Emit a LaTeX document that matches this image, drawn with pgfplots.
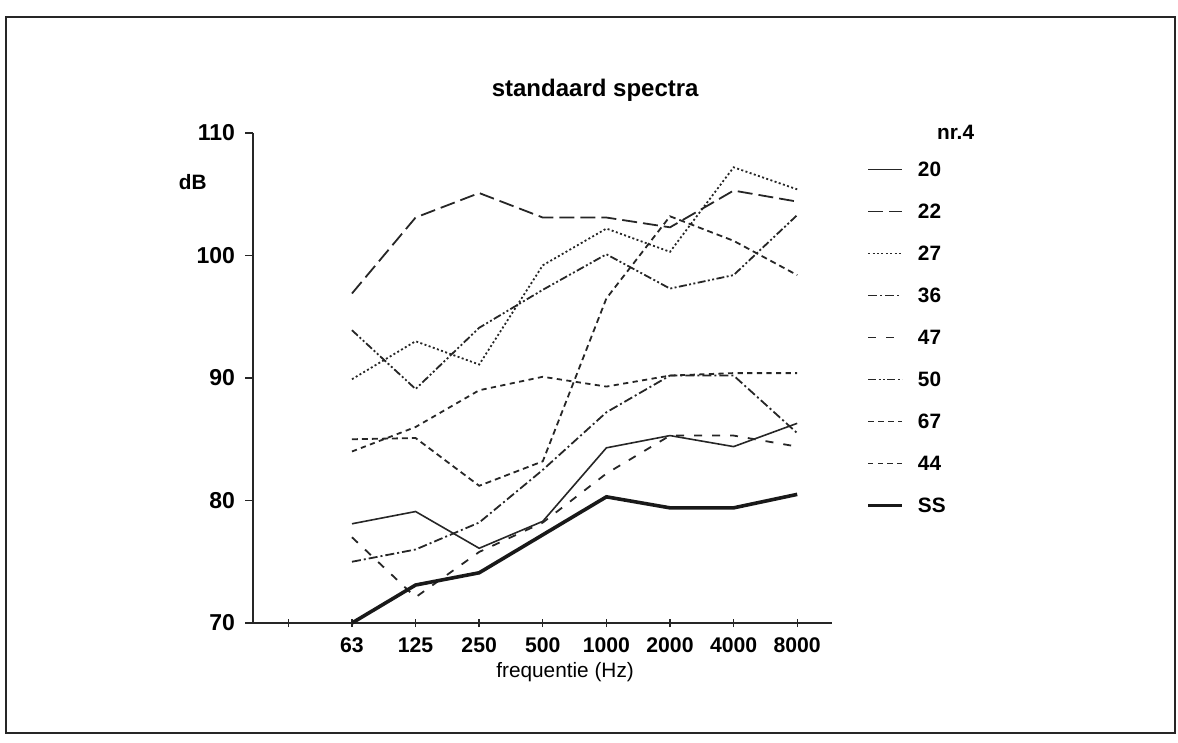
\documentclass[border=0pt]{standalone}
\usepackage{pgfplots}
\pgfplotsset{compat=1.18}
\usepackage{fontspec}
\setmainfont{Liberation Sans}

% line patterns of the series
\tikzset{
  s20/.style={black!85, line width=0.8pt},
  s22/.style={black!85, line width=0.9pt, dash pattern=on 7.5pt off 3pt},
  s27/.style={black!85, line width=0.9pt, dash pattern=on 1pt off 1.2pt},
  s36/.style={black!85, line width=0.9pt, dash pattern=on 4.5pt off 1.5pt on 1pt off 1.5pt},
  s47/.style={black!85, line width=0.9pt, dash pattern=on 4pt off 5pt},
  s50/.style={black!85, line width=0.9pt, dash pattern=on 4pt off 1.2pt on 1pt off 1.2pt on 1pt off 1.2pt},
  s67/.style={black!85, line width=0.9pt, dash pattern=on 3pt off 2pt},
  s44/.style={black!85, line width=0.9pt, dash pattern=on 2.6pt off 2.2pt},
  sSS/.style={black!90, line width=1.8pt},
}

\begin{document}
\begin{tikzpicture}
% page area and frame (1 unit = 0.5pt)
\useasboundingbox (0,0) rectangle ({1178*0.5pt},{-743*0.5pt});
\draw[black!85, line width=1pt] ({6*0.5pt},{-17*0.5pt}) rectangle ({1175*0.5pt},{-733*0.5pt});

\begin{axis}[
  at={({253*0.5pt},{-623*0.5pt})}, anchor=south west,
  scale only axis,
  width={579*0.5pt}, height={490*0.5pt},
  axis lines=left,
  axis line style={-, black!85, line width=0.8pt},
  xmin=-1.556, xmax=7.547,
  ymin=70, ymax=110,
  xtick={-1,0,1,2,3,4,5,6,7},
  xticklabels={,63,125,250,500,1000,2000,4000,8000},
  ytick={70,80,90,100,110},
  x tick style={black!85, line width=0.7pt},
  y tick style={black!85, line width=0.7pt},
  xtick align=center, ytick align=outside,
  major tick length=4pt,
  xticklabel style={font=\bfseries\fontsize{10.6}{12}\selectfont, yshift=-2pt},
  yticklabel style={font=\bfseries\fontsize{11.5}{14}\selectfont, xshift=-1.5pt},
  /pgf/number format/assume math mode=true,
  title={\bfseries\fontsize{12}{14}\selectfont standaard spectra},
  title style={at={(axis description cs:0.591,1.062)}, anchor=center},
  xlabel={frequentie (Hz)},
  xlabel style={at={(axis description cs:0.539,0)}, anchor=center, yshift=-24.5pt, font=\fontsize{10.4}{12}\selectfont},
  ylabel={\bfseries dB},
  ylabel style={at={(axis description cs:-0.104,0.9)}, anchor=center, rotate=-90, font=\fontsize{10.4}{12}\selectfont},
  clip=false,
  legend image code/.code={\draw[#1] (0pt,0pt) -- (17pt,0pt);},
  legend cell align=left,
  legend style={
    at={(axis description cs:1.0587,0.9408)}, anchor=north west,
    draw=none, fill=none, inner sep=0pt,
    font=\bfseries\fontsize{10.4}{12}\selectfont,
    nodes={inner sep=0pt, text height=7pt, text depth=0pt},
    row sep=14pt,
    /tikz/every odd column/.style={column sep=7pt},
  },
]
% 20
\addplot[s20] coordinates {(0,78.1)(1,79.1)(2,76.1)(3,78.3)(4,84.3)(5,85.3)(6,84.4)(7,86.3)};
\addlegendentry{20}
% 22
\addplot[s22] coordinates {(0,96.9)(1,103.1)(2,105.1)(3,103.1)(4,103.1)(5,102.3)(6,105.3)(7,104.4)};
\addlegendentry{22}
% 27
\addplot[s27] coordinates {(0,89.9)(1,93.0)(2,91.1)(3,99.2)(4,102.2)(5,100.3)(6,107.2)(7,105.4)};
\addlegendentry{27}
% 36
\addplot[s36] coordinates {(0,75.0)(1,76.0)(2,78.2)(3,82.5)(4,87.2)(5,90.2)(6,90.2)(7,85.5)};
\addlegendentry{36}
% 47
\addplot[s47] coordinates {(0,77.0)(1,72.1)(2,75.8)(3,78.2)(4,82.2)(5,85.3)(6,85.3)(7,84.4)};
\addlegendentry{47}
% 50
\addplot[s50] coordinates {(0,93.9)(1,89.1)(2,94.1)(3,97.2)(4,100.1)(5,97.3)(6,98.4)(7,103.3)};
\addlegendentry{50}
% 67
\addplot[s67] coordinates {(0,85.0)(1,85.1)(2,81.2)(3,83.2)(4,96.5)(5,103.2)(6,101.2)(7,98.4)};
\addlegendentry{67}
% 44
\addplot[s44] coordinates {(0,84.0)(1,86.0)(2,89.0)(3,90.1)(4,89.3)(5,90.2)(6,90.4)(7,90.4)};
\addlegendentry{44}
% SS
\addplot[sSS] coordinates {(0,70.0)(1,73.1)(2,74.1)(3,77.2)(4,80.3)(5,79.4)(6,79.4)(7,80.5)};
\addlegendentry{SS}
\end{axis}

\node[font=\bfseries\fontsize{10.4}{12}\selectfont, anchor=west] at ({930*0.5pt},{-132*0.5pt}) {nr.4};
\end{tikzpicture}
\end{document}
